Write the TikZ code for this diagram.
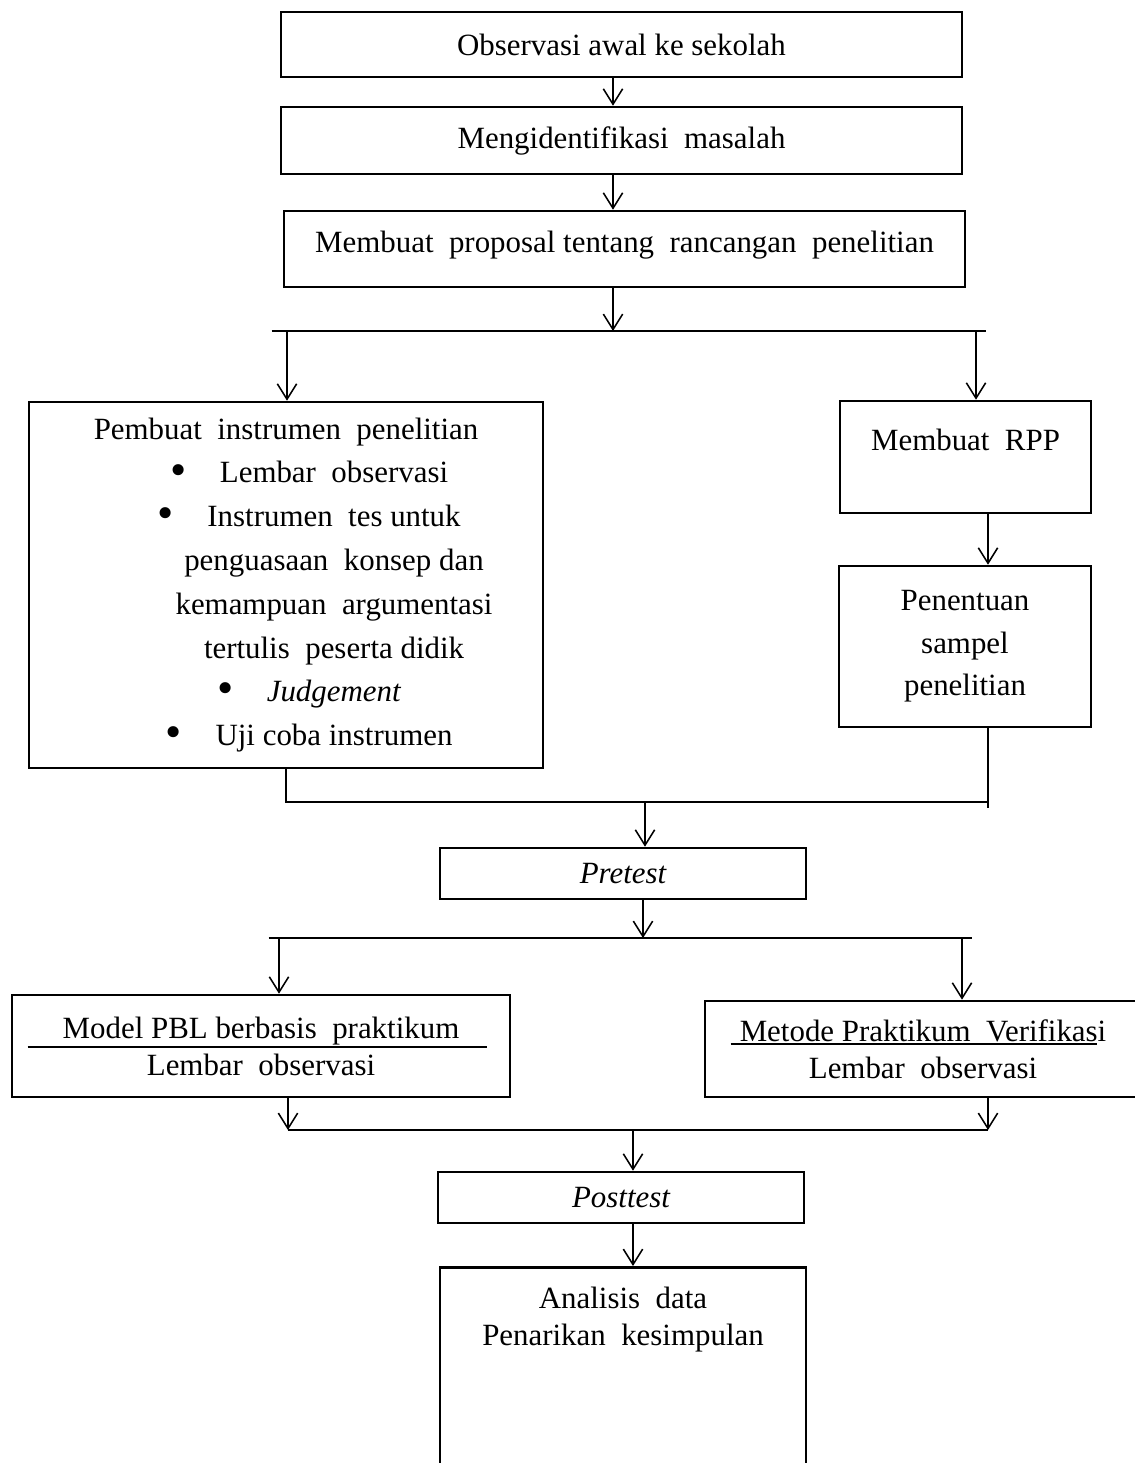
\documentclass[tikz,border=0pt]{standalone}
\usepackage{fontspec}
\setmainfont{Liberation Serif}
\usetikzlibrary{arrows.meta, calc, positioning}
\newcommand{\ind}{\hspace*{37.3pt}}
\newcommand{\bul}{\ind\llap{\raisebox{-0.8pt}{\scalebox{1.5}{\textbullet}}\hspace{13pt}}}

\begin{document}
\begin{tikzpicture}
			[x=0.3883pt, y=-0.3883pt,
			box/.style={draw, line width=1pt, align=center, inner sep=0pt, font=\fontsize{12}{14.4}\selectfont},
			link/.style={line width=0.6pt},
			arr/.style={link, -{Straight Barb[length=6pt, width=7.5pt]}}]
			\useasboundingbox (0,0) rectangle (1135,1463);
			\clip (0,0) rectangle (1135,1463);
			
			\node[box, minimum width=264.4pt, minimum height=25.2pt] (obs) at (621.5,44.5) {Observasi awal ke sekolah};
			\node[box, minimum width=264.4pt, minimum height=26pt] (ident) at (621.5,140.5) {Mengidentifikasi\ \ masalah};
			\node[box, minimum width=264.4pt, minimum height=29.5pt, text depth=6pt] (prop) at (624.5,249) {Membuat\ \ proposal tentang\ \ rancangan\ \ penelitian};
			
			\node[box, minimum width=199.6pt, minimum height=142.1pt, font=\fontsize{12}{17}\selectfont] (instr) at (286,585)
				{Pembuat\ \ instrumen\ \ penelitian\\
				\bul Lembar\ \ observasi\\
				\bul Instrumen\ \ tes untuk\\
				\ind penguasaan\ \ konsep dan\\
				\ind kemampuan\ \ argumentasi\\
				\ind tertulis\ \ peserta didik\\
				\bul \textit{Judgement}\\
				\bul Uji coba instrumen};
			\node[box, minimum width=97.5pt, minimum height=43.5pt, text depth=13.5pt] (rpp) at (965.5,457) {Membuat\ \ RPP};
			\node[box, minimum width=97.9pt, minimum height=62.5pt, font=\fontsize{12}{16.5}\selectfont] (pen) at (965,646.5) {Penentuan\\sampel\\penelitian};
			
			\node[box, minimum width=142.1pt, minimum height=19.8pt, font=\fontsize{12}{14.4}\selectfont\itshape] (pre) at (623,873.5) {Pretest};
			
			\node[box, minimum width=193.4pt, minimum height=39.6pt] (pbl) at (261,1046) {Model PBL berbasis\ \ praktikum\\Lembar\ \ observasi};
			\node[box, minimum width=169.3pt, minimum height=37.3pt] (ver) at (923,1049) {Metode Praktikum\ \ Verifikasi\\Lembar\ \ observasi};
			\draw[link] ($(pbl.west)+(17,1)$) -- ($(pbl.east)+(-24,1)$);
			\draw[link] ($(ver.west)+(27,-5)$) -- ($(ver.west)+(393,-5)$);
			
			\node[box, minimum width=142.1pt, minimum height=19.8pt, font=\fontsize{12}{14.4}\selectfont\itshape] (post) at (621,1197.5) {Posttest};
			\node[box, anchor=north, minimum width=142.1pt, inner ysep=7.8pt, text depth=80pt] (ana) at (623,1266) {Analisis\ \ data\\Penarikan\ \ kesimpulan};
			
			% junctions
			\coordinate (j1) at (613,331);
			\coordinate (j1l) at (287,331);
			\coordinate (j1r) at (976,331);
			\coordinate (j2) at (645,802);
			\coordinate (j2r) at (988,808);
			\coordinate (j3) at (643,938);
			\coordinate (j3l) at (279,938);
			\coordinate (j3r) at (962,938);
			\coordinate (j4) at (633,1130);
			\coordinate (j4l) at (288,1130);
			\coordinate (j4r) at (988,1130);
			
			\draw[arr] (obs.south -| j1) -- (ident.north -| j1);
			\draw[arr] (ident.south -| j1) -- (prop.north -| j1);
			\draw[arr] (prop.south -| j1) -- (j1);
			\draw[link] ([xshift=-6]j1l) -- ([xshift=4]j1r);
			\draw[arr] (j1l) -- (j1l |- instr.north);
			\draw[arr] (j1r) -- (j1r |- rpp.north);
			
			\draw[arr] (rpp.south -| j2r) -- (pen.north -| j2r);
			\draw[link] (pen.south -| j2r) -- (j2r);
			\draw[link] (instr.south) |- (j2r |- j2);
			\draw[arr] (j2) -- (pre.north -| j2);
			
			\draw[arr] (pre.south -| j3) -- (j3);
			\draw[link] ([xshift=-4]j3l) -- ([xshift=4]j3r);
			\draw[arr] (j3l) -- (j3l |- pbl.north);
			\draw[arr] (j3r) -- (j3r |- ver.north);
			
			\draw[arr] (pbl.south -| j4l) -- (j4l);
			\draw[arr] (ver.south -| j4r) -- (j4r);
			\draw[link] (j4l) -- (j4r);
			\draw[arr] (j4) -- (post.north -| j4);
			\draw[arr] (post.south -| j4) -- (ana.north -| j4);
			\end{tikzpicture}
\end{document}
